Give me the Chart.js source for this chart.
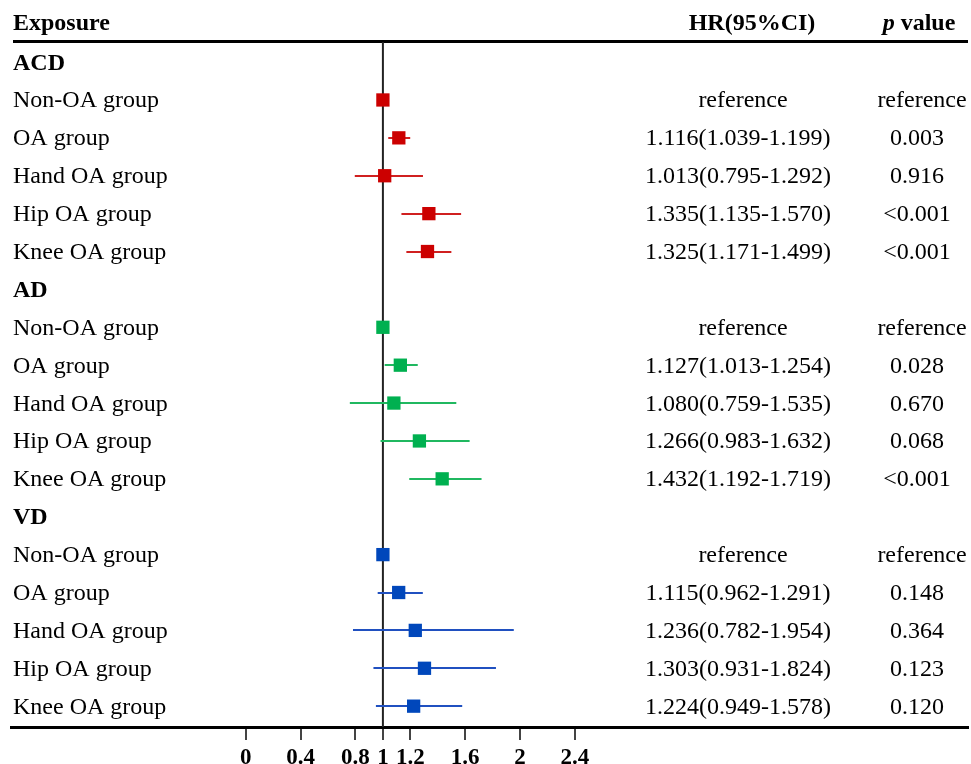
<!DOCTYPE html>
<html>
<head>
<meta charset="utf-8">
<script src="https://cdn.jsdelivr.net/npm/chart.js@4.4.0/dist/chart.umd.min.js"></script>
<style>
  html, body { margin: 0; padding: 0; background: #fff; }
  canvas { display: block; }
</style>
</head>
<body>
<canvas id="c" width="971" height="764"></canvas>
<script>
// ---- data ----
const groups = ['ACD', 'AD', 'VD'];
const rowLabels = ['Non-OA group', 'OA group', 'Hand OA group', 'Hip OA group', 'Knee OA group'];
const acdHR = [1, 1.116, 1.013, 1.335, 1.325];
const acdLo = [null, 1.039, 0.795, 1.135, 1.171];
const acdHi = [null, 1.199, 1.292, 1.570, 1.499];
const acdP  = ['reference', '0.003', '0.916', '<0.001', '<0.001'];
const adHR = [1, 1.127, 1.080, 1.266, 1.432];
const adLo = [null, 1.013, 0.759, 0.983, 1.192];
const adHi = [null, 1.254, 1.535, 1.632, 1.719];
const adP  = ['reference', '0.028', '0.670', '0.068', '<0.001'];
const vdHR = [1, 1.115, 1.236, 1.303, 1.224];
const vdLo = [null, 0.962, 0.782, 0.931, 0.949];
const vdHi = [null, 1.291, 1.954, 1.824, 1.578];
const vdP  = ['reference', '0.148', '0.364', '0.123', '0.120'];
const xTicks = [0, 0.4, 0.8, 1, 1.2, 1.6, 2, 2.4];
const refValue = 1;

const groupColors = ['#CC0000', '#00B050', '#0047BB'];
const lineColors = ['#D02020', '#20B860', '#2050C0'];
const groupHR = [acdHR, adHR, vdHR];
const groupLo = [acdLo, adLo, vdLo];
const groupHi = [acdHi, adHi, vdHi];
const groupP = [acdP, adP, vdP];

const rowOf = (g, i) => g * 6 + 1 + i;
const fmt = v => v.toFixed(3);

const SERIF = "'Liberation Serif', 'Times New Roman', serif";
const FS = 24;

const datasets = groups.map((g, gi) => ({
  label: g,
  data: groupHR[gi].map((v, i) => ({ x: v, y: rowOf(gi, i) })),
  pointStyle: 'rect',
  pointRadius: 9.4,
  pointHoverRadius: 9.4,
  backgroundColor: groupColors[gi],
  borderWidth: 0,
  showLine: false
}));

const forestPlugin = {
  id: 'forest',
  beforeDatasetsDraw(chart) {
    const { ctx, chartArea, scales } = chart;
    const x = scales.x, y = scales.y;
    ctx.save();
    // header line
    ctx.strokeStyle = '#000';
    ctx.lineWidth = 3;
    ctx.beginPath();
    ctx.moveTo(13, chartArea.top - 0.5);
    ctx.lineTo(chartArea.right, chartArea.top - 0.5);
    ctx.stroke();
    // reference line
    const xr = x.getPixelForValue(refValue);
    ctx.strokeStyle = '#222';
    ctx.lineWidth = 2;
    ctx.beginPath();
    ctx.moveTo(xr, chartArea.top);
    ctx.lineTo(xr, chartArea.bottom);
    ctx.stroke();
    // CI lines
    groups.forEach((g, gi) => {
      ctx.strokeStyle = lineColors[gi];
      ctx.lineWidth = 2;
      groupLo[gi].forEach((lo, i) => {
        const hi = groupHi[gi][i];
        if (lo == null || hi == null) return;
        const py = Math.round(y.getPixelForValue(rowOf(gi, i)));
        ctx.beginPath();
        ctx.moveTo(x.getPixelForValue(lo), py);
        ctx.lineTo(x.getPixelForValue(hi), py);
        ctx.stroke();
      });
    });
    ctx.restore();
  },
  afterDraw(chart) {
    const { ctx, scales } = chart;
    const y = scales.y;
    ctx.save();
    ctx.fillStyle = '#000';
    ctx.textBaseline = 'alphabetic';
    const HB = 30; // header baseline
    ctx.font = `bold ${FS}px ${SERIF}`;
    ctx.textAlign = 'left';
    ctx.fillText('Exposure', 13, HB);
    ctx.textAlign = 'center';
    ctx.fillText('HR(95%CI)', 752, HB);
    // p value header
    ctx.textAlign = 'left';
    ctx.font = `bold italic ${FS}px ${SERIF}`;
    const pw = ctx.measureText('p').width;
    ctx.font = `bold ${FS}px ${SERIF}`;
    const vw = ctx.measureText(' value').width;
    const startX = 919 - (pw + vw) / 2;
    ctx.font = `bold italic ${FS}px ${SERIF}`;
    ctx.fillText('p', startX, HB);
    ctx.font = `bold ${FS}px ${SERIF}`;
    ctx.fillText(' value', startX + pw, HB);

    const off = 7.5;
    groups.forEach((g, gi) => {
      const gy = y.getPixelForValue(gi * 6) + off;
      ctx.font = `bold ${FS}px ${SERIF}`;
      ctx.textAlign = 'left';
      ctx.fillText(g, 13, gy);
      rowLabels.forEach((lab, i) => {
        const ry = y.getPixelForValue(rowOf(gi, i)) + off;
        ctx.font = `${FS}px ${SERIF}`;
        ctx.textAlign = 'left';
        ctx.fillText(lab, 13, ry);
        ctx.textAlign = 'center';
        const lo = groupLo[gi][i], hi = groupHi[gi][i];
        const isRef = lo == null;
        const hrText = isRef ? 'reference' : `${fmt(groupHR[gi][i])}(${fmt(lo)}-${fmt(hi)})`;
        ctx.fillText(hrText, isRef ? 743 : 738, ry);
        ctx.fillText(groupP[gi][i], isRef ? 922 : 917, ry);
      });
    });
    ctx.restore();
  }
};

new Chart(document.getElementById('c'), {
  type: 'scatter',
  data: { datasets },
  options: {
    responsive: false,
    animation: false,
    devicePixelRatio: 1,
    layout: { autoPadding: false, padding: { left: 11, right: 3, top: 42, bottom: 0 } },
    plugins: { legend: { display: false }, tooltip: { enabled: false } },
    scales: {
      x: {
        type: 'linear',
        min: -1.7107,
        max: 5.2646,
        afterBuildTicks: s => { s.ticks = xTicks.map(v => ({ value: v })); },
        afterFit: s => { s.height = 37; s.paddingLeft = 0; s.paddingRight = 0; },
        ticks: {
          autoSkip: false,
          maxRotation: 0,
          padding: 4,
          color: '#000',
          font: { family: SERIF, size: 23, weight: 'bold' },
          callback: v => String(v)
        },
        grid: { drawOnChartArea: false, drawTicks: true, tickLength: 13, color: '#444', lineWidth: 2 },
        border: { display: true, color: '#000', width: 3 }
      },
      y: {
        type: 'linear',
        display: false,
        reverse: true,
        min: -0.53,
        max: 17.55
      }
    }
  },
  plugins: [forestPlugin]
});
</script>
</body>
</html>
